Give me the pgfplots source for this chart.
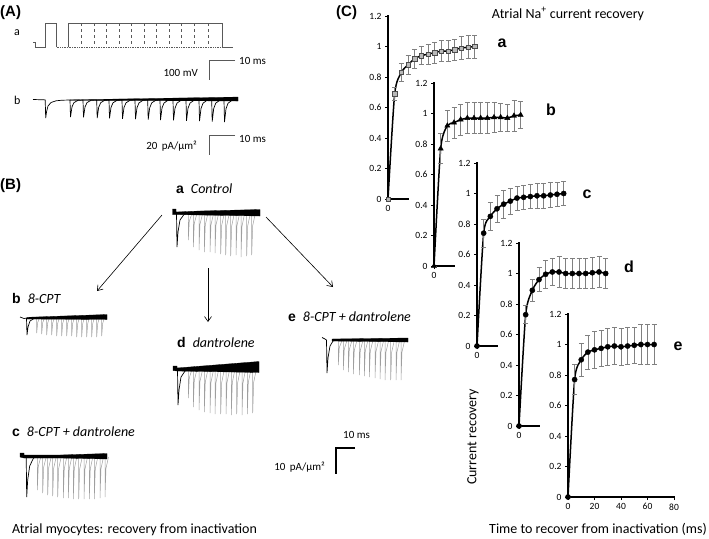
\documentclass[border=0pt]{standalone}
\usepackage{pgfplots}
\pgfplotsset{compat=1.18}
\usepackage{pgfplotstable}
\usepackage{fontspec}
\setmainfont{Carlito}
\newfontfamily\arialb{Liberation Sans}
\usetikzlibrary{arrows.meta}

\pgfplotstableread{
t y e
0 0 0
5 0.69 0.04
10 0.83 0.06
15 0.88 0.06
20 0.92 0.06
25 0.94 0.06
30 0.95 0.065
35 0.96 0.07
40 0.97 0.07
45 0.97 0.07
50 0.98 0.07
55 0.99 0.075
60 0.995 0.075
65 1.0 0.075
}\dataA
\pgfplotstableread{
t y e
0 0 0
5 0.77 0.10
10 0.92 0.10
15 0.94 0.10
20 0.96 0.10
25 0.97 0.10
30 0.97 0.10
35 0.97 0.10
40 0.97 0.10
45 0.975 0.10
50 0.975 0.09
55 0.97 0.09
60 0.985 0.10
65 0.99 0.09
}\dataB
\pgfplotstableread{
t y e
0 0 0
5 0.74 0.09
10 0.85 0.09
15 0.90 0.09
20 0.93 0.09
25 0.95 0.085
30 0.97 0.08
35 0.975 0.08
40 0.98 0.08
45 0.985 0.08
50 0.985 0.08
55 0.99 0.08
60 0.995 0.08
65 1.0 0.08
}\dataC
\pgfplotstableread{
t y e
0 0 0
5 0.73 0.06
10 0.89 0.07
15 0.96 0.08
20 0.995 0.09
25 1.01 0.09
30 1.01 0.10
35 1.0 0.10
40 1.0 0.10
45 1.0 0.10
50 1.0 0.10
55 1.005 0.10
60 1.01 0.10
65 1.0 0.10
}\dataD
\pgfplotstableread{
t y e
0 0 0
5 0.77 0.10
10 0.90 0.11
15 0.95 0.11
20 0.965 0.12
25 0.975 0.12
30 0.985 0.12
35 0.99 0.12
40 0.985 0.12
45 0.99 0.12
50 0.995 0.12
55 1.0 0.13
60 1.0 0.13
65 1.0 0.13
}\dataE

\pgfplotsset{
  recov/.style={
    scale only axis, height=183pt, width=20pt, ymin=0, ymax=1.2, xmin=0, xmax=15,
    axis x line*=bottom, axis y line*=left,
    axis line style={-, line width=2.2pt, line cap=rect},
    ytick={0,0.2,0.4,0.6,0.8,1,1.2}, yticklabels={0,0.2,0.4,0.6,0.8,1,1.2},
    xtick={0}, xticklabels={0},
    tick label style={font=\fontsize{9.5}{10}\selectfont},
    /pgf/number format/assume math mode=true,
    major tick length=3pt, tick style={black, line width=0.6pt},
    tick align=outside, clip=false, anchor=south west,
  },
  curve/.style={black, line width=1.5pt, smooth, tension=0.4, no markers},
  ebars/.style={error bars/.cd, y dir=both, y explicit,
    error bar style={gray, line width=0.7pt},
    error mark options={rotate=90, gray, mark size=2.5pt, line width=0.7pt}},
  spk/.style={gray!75, line width=0.5pt, unbounded coords=jump},
}
\newcommand\txt{\fontsize{14}{16}\selectfont}
\newcommand\itx{\fontsize{14}{16}\selectfont\itshape}
\newcommand\sml{\fontsize{11}{13}\selectfont}
\newcommand\plab{\arialb\bfseries\fontsize{15}{17}\selectfont}
\newcommand\blab{\arialb\bfseries\fontsize{14}{16}\selectfont}
\newcommand\clab{\arialb\bfseries\fontsize{16}{18}\selectfont}

\begin{document}
\begin{tikzpicture}
\path[use as bounding box] (0,0) rectangle (709pt,-538pt);
\begin{axis}[at={(0pt,0pt)}, anchor=north west, scale only axis, width=709pt, height=538pt,
  xmin=0, xmax=709, ymin=0, ymax=538, y dir=reverse, hide axis, clip=false]
% ---------- Panel A: protocol ----------
\addplot[black!65, line width=0.7pt] coordinates {(33,42)(35,42)(35,47)(45.7,47)(45.7,23)(56.7,23)(56.7,47)};
\addplot[black!65, line width=0.7pt, densely dotted] coordinates {(56.7,47)(222,47)};
\addplot[black!65, line width=0.7pt] coordinates {(68,47)(68,23)(222,23)(222,47)(233,47)};
\addplot[black!65, line width=0.6pt, dashed, unbounded coords=jump] coordinates {
 (81.7,23)(81.7,47)(0,nan)(94,23)(94,47)(0,nan)(106.7,23)(106.7,47)(0,nan)
 (119,23)(119,47)(0,nan)(131.7,23)(131.7,47)(0,nan)(144,23)(144,47)(0,nan)
 (156.7,23)(156.7,47)(0,nan)(169.3,23)(169.3,47)(0,nan)(181.7,23)(181.7,47)(0,nan)
 (194.3,23)(194.3,47)(0,nan)(208.3,23)(208.3,47)};
% scale bars A
\addplot[black!65, line width=0.8pt] coordinates {(235,60)(209,60)(209,80)};
\addplot[black!65, line width=0.8pt] coordinates {(235,135)(209,135)(209,155)};
% ---------- Panel A: current ----------
\addplot[black, line width=0.7pt] coordinates {
 (33,99.5)(44,99.8)(45.2,100)(45.7,118)(46.5,112)(48,106)(51,102.5)(56,100.8)(62,100.2)
 (70,100)(70.5,117)(72,106.8)(74,102.6)(78,100.3)
 (83,100)(83.5,117.4)(85,107)(87,102.6)(91,100.3)
 (96.7,100)(97.2,118)(98.7,107.2)(100.7,102.7)(104.7,100.3)
 (109,100)(109.5,118.4)(111,107.4)(113,102.8)(117,100.3)
 (122,100)(122.5,118.8)(124,107.5)(126,102.8)(130,100.3)
 (135,100)(135.5,119.2)(137,107.7)(139,102.9)(143,100.3)
 (147.7,100)(148.2,119.6)(149.7,107.8)(151.7,102.9)(155.7,100.3)
 (160,100)(160.5,120)(162,108)(164,103)(168,100.3)
 (173,100)(173.5,120.4)(175,108.2)(177,103.1)(181,100.3)
 (186,100)(186.5,120.8)(188,108.3)(190,103.1)(194,100.3)
 (199,100)(199.5,121.2)(201,108.5)(203,103.2)(207,100.3)
 (211.7,100)(212.2,121.6)(213.7,108.6)(215.7,103.2)(219.7,100.3)
 (224,100)(224.5,122)(226,108.8)(228,103.3)(232,100.3)(238,100)};
\addplot[black, fill=black, line width=0.2pt] coordinates {(70,99.8)(238,97)(238,101)(70,100.4)} --cycle;
% ---------- Panel B traces ----------
% a Control
\addplot[spk] coordinates {
 (188.3,213)(188.3,240)(189.3,221.1)(191.8,214)(0,nan)
 (193.3,213)(193.3,247)(194.3,223.2)(196.8,214)(0,nan)
 (199,213)(199,250)(200,224.1)(202.5,214)(0,nan)
 (204.3,213)(204.3,252)(205.3,224.7)(207.8,214)(0,nan)
 (210,213)(210,252)(211,224.7)(213.5,214)(0,nan)
 (215,213)(215,253)(216,225)(218.5,214)(0,nan)
 (220.7,213)(220.7,254)(221.7,225.3)(224.2,214)(0,nan)
 (225.7,213)(225.7,255)(226.7,225.6)(229.2,214)(0,nan)
 (230.7,213)(230.7,256)(231.7,225.9)(234.2,214)(0,nan)
 (236,213)(236,255)(237,225.6)(239.5,214)(0,nan)
 (241,213)(241,257)(242,226.2)(244.5,214)(0,nan)
 (246.7,213)(246.7,256)(247.7,225.9)(250.2,214)(0,nan)
 (251.7,213)(251.7,255)(252.7,225.6)(255.2,214)};
\addplot[black, line width=0.7pt] coordinates {(176.5,213)(177,247)(178,232)(180,220)(184,214.5)(190,213.5)};
\addplot[black, fill=black, line width=0.3pt] coordinates {(172.5,209)(176,209)(176,212)(200,211)(260,209.5)(260,216)(200,215)(176,214.5)(172.5,214.5)} --cycle;
% b 8-CPT
\addplot[spk] coordinates {
 (36.7,318)(36.7,333)(37.7,322.5)(39.2,318.5)(0,nan)
 (41.7,318)(41.7,334)(42.7,322.8)(44.2,318.5)(0,nan)
 (46.7,318)(46.7,335)(47.7,323.1)(49.2,318.5)(0,nan)
 (51.7,318)(51.7,335)(52.7,323.1)(54.2,318.5)(0,nan)
 (56.7,318)(56.7,336)(57.7,323.4)(59.2,318.5)(0,nan)
 (61.7,318)(61.7,336)(62.7,323.4)(64.2,318.5)(0,nan)
 (66.7,318)(66.7,336)(67.7,323.4)(69.2,318.5)(0,nan)
 (71.7,318)(71.7,336)(72.7,323.4)(74.2,318.5)(0,nan)
 (76.7,318)(76.7,337)(77.7,323.7)(79.2,318.5)(0,nan)
 (81.7,318)(81.7,337)(82.7,323.7)(84.2,318.5)(0,nan)
 (86.7,318)(86.7,337)(87.7,323.7)(89.2,318.5)(0,nan)
 (91.7,318)(91.7,337)(92.7,323.7)(94.2,318.5)(0,nan)
 (96.7,318)(96.7,337)(97.7,323.7)(99.2,318.5)(0,nan)
 (101.7,318)(101.7,336)(102.7,323.4)(104.2,318.5)};
\addplot[black, line width=0.7pt] coordinates {(20,317)(24,318.5)(26.5,318)(27,335)(28,327)(30,321)(34,318.5)};
\addplot[black, fill=black, line width=0.3pt] coordinates {(27,317.3)(107,314.5)(107,319.5)(27,319)} --cycle;
% c 8-CPT + dantrolene
\addplot[spk] coordinates {
 (37.3,456)(37.3,490)(38.3,466.2)(40.8,457)(0,nan)
 (42.7,456)(42.7,493)(43.7,467.1)(46.2,457)(0,nan)
 (47.7,456)(47.7,495)(48.7,467.7)(51.2,457)(0,nan)
 (52.7,456)(52.7,496)(53.7,468)(56.2,457)(0,nan)
 (57.7,456)(57.7,497)(58.7,468.3)(61.2,457)(0,nan)
 (63.3,456)(63.3,498)(64.3,468.6)(66.8,457)(0,nan)
 (68.3,456)(68.3,498)(69.3,468.6)(71.8,457)(0,nan)
 (73.3,456)(73.3,499)(74.3,468.9)(76.8,457)(0,nan)
 (78.7,456)(78.7,499)(79.7,468.9)(82.2,457)(0,nan)
 (84,456)(84,499)(85,468.9)(87.5,457)(0,nan)
 (89.3,456)(89.3,499)(90.3,468.9)(92.8,457)(0,nan)
 (94.3,456)(94.3,499)(95.3,468.9)(97.8,457)(0,nan)
 (100,456)(100,498)(101,468.6)(103.5,457)(0,nan)
 (105,456)(105,497)(106,468.3)(108.5,457)};
\addplot[black, line width=0.7pt] coordinates {(26.2,456)(26.7,497)(27.7,480)(29.7,466)(33.5,458)(38,456.5)};
\addplot[black, fill=black, line width=0.3pt] coordinates {(20,453)(24,453)(24,455)(60,455)(107,453.5)(107,459)(60,458)(24,458)(20,457)} --cycle;
% d dantrolene
\addplot[spk] coordinates {
 (188.3,369)(188.3,398)(189.3,377.7)(191.8,370)(0,nan)
 (193.3,369)(193.3,407)(194.3,380.4)(196.8,370)(0,nan)
 (199,369)(199,410)(200,381.3)(202.5,370)(0,nan)
 (204.3,369)(204.3,412)(205.3,381.9)(207.8,370)(0,nan)
 (210,369)(210,413)(211,382.2)(213.5,370)(0,nan)
 (215,369)(215,414)(216,382.5)(218.5,370)(0,nan)
 (220.7,369)(220.7,414)(221.7,382.5)(224.2,370)(0,nan)
 (226,369)(226,414)(227,382.5)(229.5,370)(0,nan)
 (231.3,369)(231.3,415)(232.3,382.8)(234.8,370)(0,nan)
 (236.7,369)(236.7,414)(237.7,382.5)(240.2,370)(0,nan)
 (242,369)(242,415)(243,382.8)(245.5,370)(0,nan)
 (247.3,369)(247.3,414)(248.3,382.5)(250.8,370)(0,nan)
 (252.7,369)(252.7,413)(253.7,382.2)(256.2,370)};
\addplot[black, line width=0.7pt] coordinates {(177.5,369)(178,405)(179,390)(181,377)(185,371)(191,369.5)};
\addplot[black, fill=black, line width=0.3pt] coordinates {(173,366)(177,366)(177,368)(259,361.5)(259,372.5)(177,371)(173,370.5)} --cycle;
% e 8-CPT + dantrolene
\addplot[spk] coordinates {
 (338.3,340)(338.3,365)(339.3,347.5)(341.8,341)(0,nan)
 (343.3,340)(343.3,370)(344.3,349)(346.8,341)(0,nan)
 (348.3,340)(348.3,372)(349.3,349.6)(351.8,341)(0,nan)
 (353.3,340)(353.3,374)(354.3,350.2)(356.8,341)(0,nan)
 (359.3,340)(359.3,375)(360.3,350.5)(362.8,341)(0,nan)
 (364.3,340)(364.3,376)(365.3,350.8)(367.8,341)(0,nan)
 (369.3,340)(369.3,377)(370.3,351.1)(372.8,341)(0,nan)
 (375,340)(375,378)(376,351.4)(378.5,341)(0,nan)
 (380,340)(380,379)(381,351.7)(383.5,341)(0,nan)
 (385,340)(385,380)(386,352)(388.5,341)(0,nan)
 (390.7,340)(390.7,380)(391.7,352)(394.2,341)(0,nan)
 (396,340)(396,380)(397,352)(399.5,341)(0,nan)
 (401,340)(401,380)(402,352)(404.5,341)};
\addplot[black, line width=0.7pt] coordinates {(322,337.5)(325,339)(326.5,340)(327,373)(328,358)(330,346)(333,341)(337,340)};
\addplot[black, fill=black, line width=0.3pt] coordinates {(332,339)(408,338)(408,342)(332,341)} --cycle;
% arrows
\addplot[black, line width=0.6pt, -{Straight Barb[length=5pt,width=7pt]}] coordinates {(162,215)(97,291)};
\addplot[black, line width=0.6pt, -{Straight Barb[length=5pt,width=7pt]}] coordinates {(208,268)(208,322)};
\addplot[black, line width=0.6pt, -{Straight Barb[length=5pt,width=7pt]}] coordinates {(266,217)(333,287)};
% scale bar B
\addplot[black, line width=2.6pt, line join=miter] coordinates {(355,448)(336,448)(336,474)};
% ---------- texts ----------
\node[anchor=west, inner sep=0] at (axis cs:0,13) {\plab (A)};
\node[anchor=west, inner sep=0] at (axis cs:336,13) {\plab (C)};
\node[anchor=west, inner sep=0] at (axis cs:0,186) {\plab (B)};
\node[anchor=west, inner sep=0] at (axis cs:14,33) {\fontsize{12}{14}\selectfont a};
\node[anchor=west, inner sep=0] at (axis cs:14,100) {\fontsize{12}{14}\selectfont b};
\node[anchor=east, inner sep=0] at (axis cs:198,72.5) {\sml 100 mV};
\node[anchor=west, inner sep=0] at (axis cs:239,61) {\sml 10 ms};
\node[anchor=east, inner sep=0] at (axis cs:197,146) {\sml 20\, pA/µm²};
\node[anchor=west, inner sep=0] at (axis cs:239,139) {\sml 10 ms};
\node[anchor=west, inner sep=0] at (axis cs:176,189) {{\blab a}\hspace{7pt}{\itx Control}};
\node[anchor=west, inner sep=0] at (axis cs:12,298) {{\blab b}\hspace{7pt}{\itx 8-CPT}};
\node[anchor=west, inner sep=0] at (axis cs:177,342) {{\blab d}\hspace{7pt}{\itx dantrolene}};
\node[anchor=west, inner sep=0] at (axis cs:288,317) {{\blab e}\hspace{7pt}{\itx 8-CPT + dantrolene}};
\node[anchor=west, inner sep=0] at (axis cs:12,432) {{\blab c}\hspace{7pt}{\itx 8-CPT + dantrolene}};
\node[anchor=west, inner sep=0] at (axis cs:343,435) {\sml 10 ms};
\node[anchor=east, inner sep=0] at (axis cs:325,467) {\sml 10\, pA/µm²};
\node[anchor=west, inner sep=0] at (axis cs:12,530) {\txt Atrial myocytes: recovery from inactivation};
\node[inner sep=0] at (axis cs:568,14) {\txt Atrial Na\textsuperscript{+} current recovery};
\node[inner sep=0, rotate=90] at (axis cs:473,437) {\txt Current recovery};
\node[inner sep=0] at (axis cs:598,529) {\txt Time to recover from inactivation (ms)};
\node[inner sep=0] at (axis cs:502,43) {\clab a};
\node[inner sep=0] at (axis cs:551,110) {\clab b};
\node[inner sep=0] at (axis cs:587,194) {\clab c};
\node[inner sep=0] at (axis cs:629,267) {\clab d};
\node[inner sep=0] at (axis cs:678,346) {\clab e};
\end{axis}
% ---------- Panel C ----------
\begin{axis}[recov, at={(388pt,-199pt)}]
\addplot[curve] table[x=t,y=y]{\dataA};
\addplot[only marks, black, mark=square*, mark size=2.2pt, mark options={fill=gray!55, draw=black!70, line width=0.5pt}, ebars] table[x=t,y=y,y error=e]{\dataA};
\end{axis}
\begin{axis}[recov, at={(434pt,-266pt)}]
\addplot[curve] table[x=t,y=y]{\dataB};
\addplot[only marks, black, mark=triangle*, mark size=3pt, ebars] table[x=t,y=y,y error=e]{\dataB};
\end{axis}
\begin{axis}[recov, at={(477pt,-346pt)}]
\addplot[curve] table[x=t,y=y]{\dataC};
\addplot[only marks, black, mark=*, mark size=2.6pt, ebars] table[x=t,y=y,y error=e]{\dataC};
\end{axis}
\begin{axis}[recov, at={(519pt,-426pt)}]
\addplot[curve] table[x=t,y=y]{\dataD};
\addplot[only marks, black, mark=*, mark size=2.6pt, ebars] table[x=t,y=y,y error=e]{\dataD};
\end{axis}
\begin{axis}[recov, at={(568pt,-497pt)}, xmax=80, width=106pt, xtick={0,20,40,60,80}, xticklabels={0,20,40,60,80}]
\addplot[curve] table[x=t,y=y]{\dataE};
\addplot[only marks, black, mark=*, mark size=2.6pt, ebars] table[x=t,y=y,y error=e]{\dataE};
\end{axis}
\end{tikzpicture}
\end{document}
